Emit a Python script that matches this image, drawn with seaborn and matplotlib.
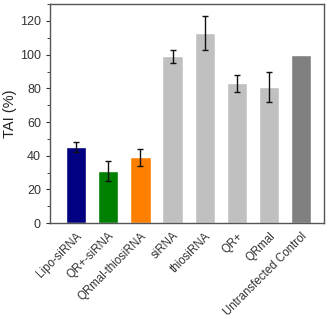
import pandas as pd
import seaborn as sns
import matplotlib.pyplot as plt
import numpy as np

# valores
groups = ['Lipo-siRNA', 'QR+-siRNA', 'QRmal-thiosiRNA', 'siRNA', 'thiosiRNA',
          'QR+', 'QRmal', 'Untransfected Control']
tai = [45, 31, 39, 99, 113, 83, 81, 100]
err = [3, 6, 5, 4, 10, 5, 9, 0]
colors = ['#000080', '#008000', '#ff8000', '#c0c0c0', '#c0c0c0',
          '#c0c0c0', '#c0c0c0', '#808080']

df = pd.DataFrame({'group': groups, 'tai': tai, 'err': err})

sns.set_style("ticks")
plt.rcParams['font.family'] = ['Liberation Sans', 'DejaVu Sans']

fig = plt.figure(figsize=(3.29, 3.2), dpi=100)
ax = fig.add_axes([0.152, 0.303, 0.833, 0.684])

sns.barplot(data=df, x='group', y='tai', hue='group', palette=colors,
            legend=False, width=0.63, saturation=1, ax=ax, errorbar=None)

# barras de error solo donde hay error
con_err = df[df['err'] > 0]
ax.errorbar(con_err.index, con_err['tai'], yerr=con_err['err'], fmt='none',
            ecolor='#111111', elinewidth=1, capsize=2, capthick=1)

ax.set_xlim(-0.81, 7.71)
ax.set_ylim(0, 130)
ax.set_yticks(range(0, 121, 20))
ax.set_yticks(range(0, 131, 10), minor=True)
ax.tick_params(axis='y', labelsize=9, length=3, width=0.8, colors='#333333')
ax.tick_params(axis='y', which='minor', length=2, width=0.6)
ax.tick_params(axis='x', length=0, pad=5, labelsize=8.3, labelcolor='#333333')
plt.setp(ax.get_xticklabels(), rotation=45, ha='right', rotation_mode='anchor')
ax.set_xlabel('')
ax.set_ylabel('TAI (%)', fontsize=10.5, color='#222222', labelpad=2)
for s in ax.spines.values():
    s.set_color('#555555')
    s.set_linewidth(1)

plt.savefig('out.png', dpi=100)
